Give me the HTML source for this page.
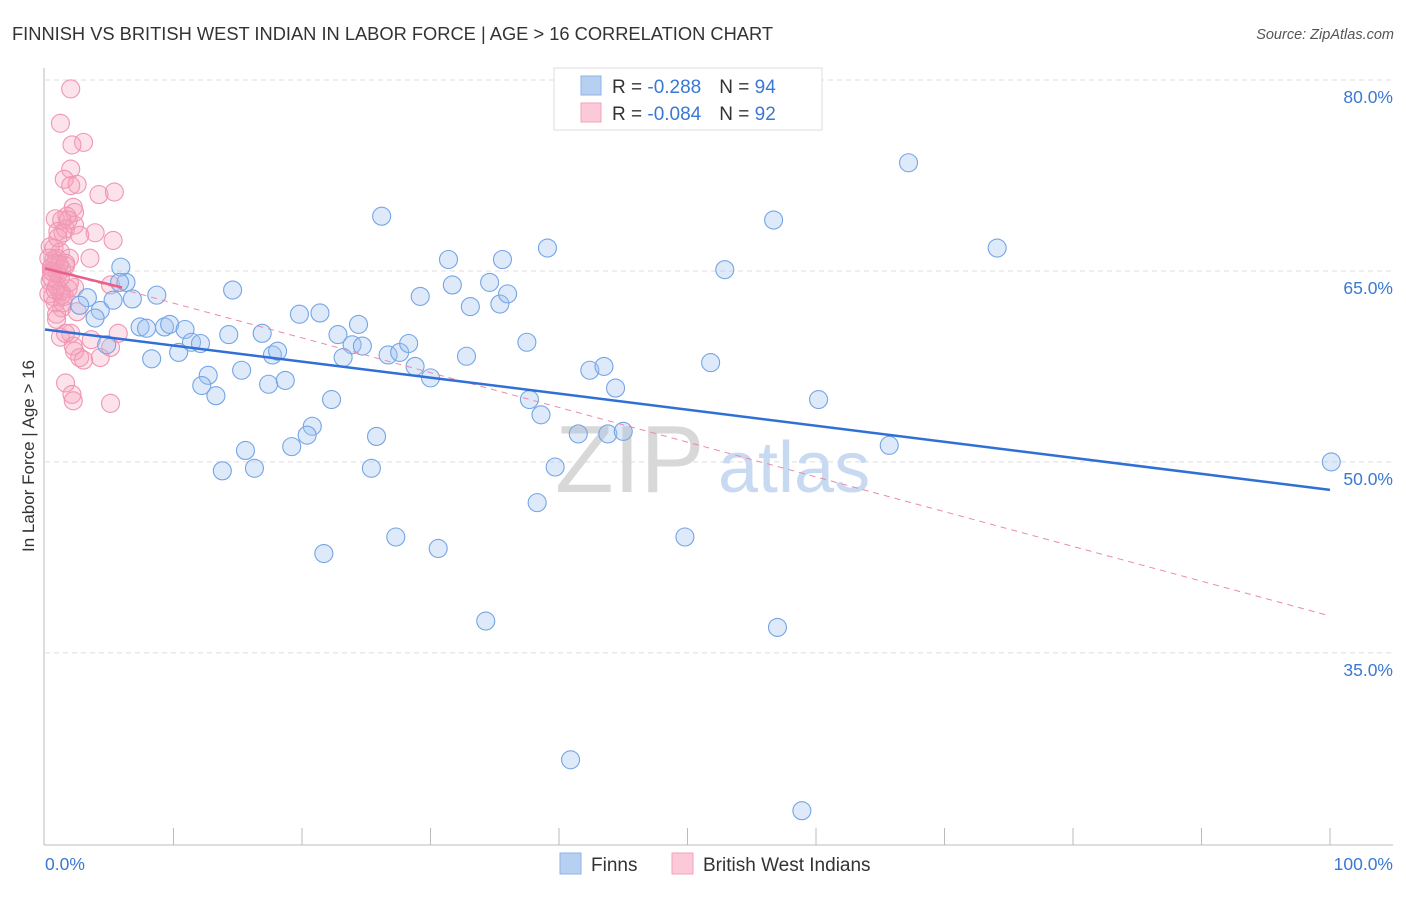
<!DOCTYPE html>
<html><head><meta charset="utf-8"><style>
body{margin:0;background:#fff;font-family:"Liberation Sans",sans-serif}
svg text{font-family:"Liberation Sans",sans-serif}
</style></head><body>
<svg width="1406" height="892">
<text x="12" y="40" font-size="18.3" fill="#333" textLength="761">FINNISH VS BRITISH WEST INDIAN IN LABOR FORCE | AGE &gt; 16 CORRELATION CHART</text>
<text x="1394" y="39" font-size="14.5" fill="#555" text-anchor="end" font-style="italic">Source: ZipAtlas.com</text>
<g id="grid"></g>
<text x="555" y="492" font-size="96" fill="#d8d8d8" font-family="Liberation Serif">ZIP</text>
<text x="718" y="492" font-size="72" fill="#c8daf2">atlas</text>
<line x1="44" y1="68" x2="44" y2="845" stroke="#bbb"/>
<line x1="44" y1="845" x2="1393" y2="845" stroke="#bbb"/>
<text transform="translate(34,456) rotate(-90)" font-size="17" fill="#333" text-anchor="middle">In Labor Force | Age &gt; 16</text>
<text x="45" y="870" font-size="17.5" fill="#3a78d4">0.0%</text>
<text x="1393" y="870" font-size="17.5" fill="#3a78d4" text-anchor="end">100.0%</text>
<g id="pts"></g>
<g id="lines"></g>
<g>
<rect x="554" y="68" width="268" height="62" fill="#fff" stroke="#ddd"/>
<rect x="581" y="76" width="20" height="19" fill="#b7d0f2" stroke="#8db3e8"/>
<rect x="581" y="103" width="20" height="19" fill="#fcc9d8" stroke="#f2a3bb"/>
<text x="612" y="93" font-size="19" fill="#333">R = <tspan fill="#3a78d4"> -0.288</tspan><tspan dx="18">N = </tspan><tspan fill="#3a78d4">94</tspan></text>
<text x="612" y="120" font-size="19" fill="#333">R = <tspan fill="#3a78d4">-0.084</tspan><tspan dx="18">N = </tspan><tspan fill="#3a78d4">92</tspan></text>
</g>
<g>
<rect x="560" y="853" width="21" height="21" fill="#b7d0f2" stroke="#8db3e8"/>
<text x="591" y="871" font-size="19" fill="#333">Finns</text>
<rect x="672" y="853" width="21" height="21" fill="#fcc9d8" stroke="#f2a3bb"/>
<text x="703" y="871" font-size="19" fill="#333">British West Indians</text>
</g>
</svg>
<script>
const yTicks=[80,65,50,35];
const xTicks=[10,20,30,40,50,60,70,80,90,100];
const blueX=[5.9,6.3,3.3,2.7,4.3,3.9,5.3,6.8,8.7,14.6,7.4,7.9,9.3,9.7,10.9,11.4,12.1,14.3,16.9,8.3,10.4,4.8,12.7,12.2,13.3,15.3,17.4,18.7,17.7,18.1,19.8,21.4,22.8,24.4,23.9,23.2,24.7,26.7,27.6,28.3,28.8,30.0,29.2,31.4,31.7,33.1,34.6,35.6,35.4,36.0,39.1,37.5,32.8,26.2,22.3,20.8,20.4,19.2,15.6,16.3,13.8,25.8,25.4,21.7,27.3,30.6,34.3,37.7,38.6,39.7,38.3,41.5,43.8,45.0,42.4,43.5,44.4,40.9,49.8,57.0,58.9,51.8,52.9,56.7,60.2,65.7,67.2,74.1,100.1,5.8];
const blueY=[65.3,64.1,62.9,62.3,61.9,61.3,62.7,62.8,63.1,63.5,60.6,60.5,60.6,60.8,60.4,59.4,59.3,60.0,60.1,58.1,58.6,59.2,56.8,56.0,55.2,57.2,56.1,56.4,58.4,58.7,61.6,61.7,60.0,60.8,59.2,58.2,59.1,58.4,58.6,59.3,57.5,56.6,63.0,65.9,63.9,62.2,64.1,65.9,62.4,63.2,66.8,59.4,58.3,69.3,54.9,52.8,52.1,51.2,50.9,49.5,49.3,52.0,49.5,42.8,44.1,43.2,37.5,54.9,53.7,49.6,46.8,52.2,52.2,52.4,57.2,57.5,55.8,26.6,44.1,37.0,22.6,57.8,65.1,69.0,54.9,51.3,73.5,66.8,50.0,64.1];
const pinkX=[2.0,1.2,3.0,2.1,2.0,1.5,2.5,2.0,4.2,5.4,2.2,2.3,0.8,1.7,1.6,2.3,1.0,1.4,3.9,5.3,0.7,1.2,1.9,3.5,0.8,1.6,0.5,1.0,1.3,0.4,0.9,1.2,0.6,1.8,2.3,5.1,0.8,1.3,0.9,2.0,1.2,1.6,3.6,5.7,2.3,2.7,3.0,4.3,5.1,2.2,1.6,2.1,2.2,5.1,0.7,0.9,0.4,0.5,1.2,1.6,1.9,1.3,0.3,1.0,1.3,1.8,2.7,1.4,0.9,2.5,0.6,1.1,0.3,0.5,1.5,0.8];
const pinkY=[79.3,76.6,75.1,74.9,73.0,72.2,71.8,71.7,71.0,71.2,70.0,69.6,69.1,69.3,68.3,68.6,68.1,68.0,68.0,67.4,66.8,66.5,66.0,66.0,65.6,65.4,65.0,64.8,65.1,64.2,63.8,63.4,63.0,63.6,63.7,63.9,62.5,62.1,61.6,60.1,59.8,60.1,59.6,60.1,58.7,58.2,58.0,58.2,59.0,59.1,56.2,55.3,54.8,54.6,65.9,66.0,66.9,65.3,64.5,65.6,64.1,63.1,63.2,67.6,69.0,69.0,67.8,62.5,61.2,61.8,64.9,65.5,66.0,64.5,63.0,63.5];
const blueTrend=[[0,60.4],[100,47.8]];
const pinkTrend=[[0,65.2],[6,63.7]];
const pinkDash=[[0,65.2],[100,37.9]];
const sx=v=>45+v*12.85, sy=v=>80+(80-v)*12.73;
const NS='http://www.w3.org/2000/svg';
function mk(t,a,p){const e=document.createElementNS(NS,t);for(const k in a)e.setAttribute(k,a[k]);p.appendChild(e);return e;}
const grid=document.getElementById('grid');
yTicks.forEach(v=>{
 const l=mk('line',{x1:45,x2:1393,y1:sy(v),y2:sy(v),stroke:'#ddd','stroke-dasharray':'5,4'},grid);
 
 
 const t=mk('text',{x:1393,y:sy(v)+23,'font-size':17.5,fill:'#3a78d4','text-anchor':'end'},grid);
 t.textContent=v.toFixed(1)+'%';
 
 
});
xTicks.forEach(v=>{
 const l=mk('line',{x1:sx(v),x2:sx(v),y1:828,y2:845,stroke:'#bbb'},grid);
 
 
});
const pts=document.getElementById('pts');
pinkX.forEach((x,i)=>{
 const c=mk('circle',{cx:sx(x),cy:sy(pinkY[i]),r:9,fill:'rgba(246,160,187,0.3)',stroke:'#f096b3','stroke-width':1.1},pts);
 
 
});
blueX.forEach((x,i)=>{
 const c=mk('circle',{cx:sx(x),cy:sy(blueY[i]),r:9,fill:'rgba(160,195,240,0.35)',stroke:'#74a5e5','stroke-width':1.1},pts);
 
 
});
const ln=document.getElementById('lines');
let e=mk('line',{x1:sx(pinkDash[0][0]),y1:sy(pinkDash[0][1]),x2:sx(pinkDash[1][0]),y2:sy(pinkDash[1][1]),stroke:'#eb8aa8','stroke-width':1,'stroke-dasharray':'6,5'},ln);


e=mk('line',{x1:sx(pinkTrend[0][0]),y1:sy(pinkTrend[0][1]),x2:sx(pinkTrend[1][0]),y2:sy(pinkTrend[1][1]),stroke:'#e8608a','stroke-width':2.5},ln);


e=mk('line',{x1:sx(blueTrend[0][0]),y1:sy(blueTrend[0][1]),x2:sx(blueTrend[1][0]),y2:sy(blueTrend[1][1]),stroke:'#2f6fd6','stroke-width':2.5},ln);


</script>
</body></html>
